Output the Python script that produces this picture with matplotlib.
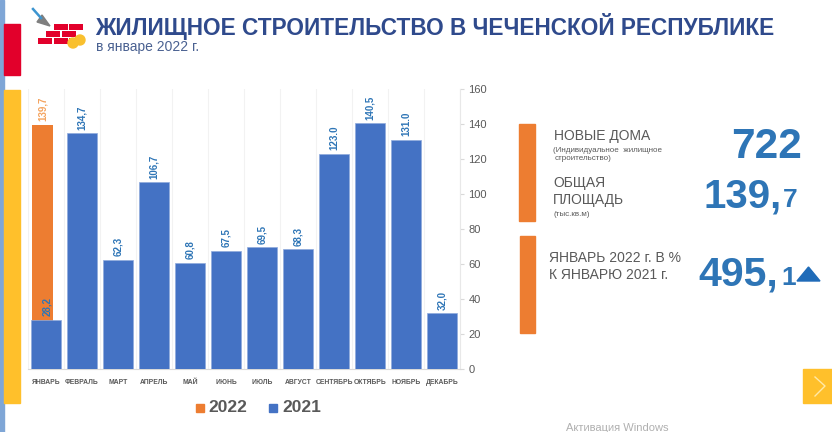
import matplotlib
matplotlib.use('Agg')
import matplotlib.pyplot as plt
from matplotlib.patches import Rectangle, Polygon, Circle

# Data
months = ['ЯНВАРЬ', 'ФЕВРАЛЬ', 'МАРТ', 'АПРЕЛЬ', 'МАЙ', 'ИЮНЬ', 'ИЮЛЬ', 'АВГУСТ',
          'СЕНТЯБРЬ', 'ОКТЯБРЬ', 'НОЯБРЬ', 'ДЕКАБРЬ']
values_2021 = [28.2, 134.7, 62.3, 106.7, 60.8, 67.5, 69.5, 68.3, 123.0, 140.5, 131.0, 32.0]
labels_2021 = ['28,2', '134,7', '62,3', '106,7', '60,8', '67,5', '69,5', '68,3',
               '123.0', '140,5', '131.0', '32,0']
values_2022 = [139.7]
labels_2022 = ['139,7']
y_ticks = [0, 20, 40, 60, 80, 100, 120, 140, 160]

ORANGE = '#ED7D31'
BLUE = '#4472C4'
NAVY = '#2F4A8C'
STEEL = '#2E75B6'
GRAY = '#595959'
YELLOW = '#FFC02B'
RED = '#E2002B'

plt.rcParams['font.family'] = ['Liberation Sans', 'DejaVu Sans']
W, H = 832, 432
fig = plt.figure(figsize=(W / 100, H / 100), dpi=100, facecolor='white')

# --- Bar chart ---
ax = fig.add_axes([28 / W, 1 - 369 / H, 432 / W, 280 / H])
x = list(range(len(months)))
ax.bar([i - 0.4 for i in x[:1]], values_2022, width=0.6, align='edge', color=ORANGE, zorder=2)
ax.bar(x, values_2021, width=0.81, color=BLUE, edgecolor='#8FAADC', linewidth=0.5, zorder=3)

for i, (v, lab) in enumerate(zip(values_2021, labels_2021)):
    dx = 0.03 if i == 0 else 0
    ax.text(i + dx, v + 2, lab, rotation=90, ha='center', va='bottom', fontsize=7,
            color=STEEL, fontweight='bold', zorder=4)
ax.text(-0.09, values_2022[0] + 2, labels_2022[0], rotation=90, ha='center', va='bottom',
        fontsize=7, color='#F4A460', fontweight='bold', zorder=4)

ax.set_xlim(-0.5, 11.5)
ax.set_ylim(0, 160)
ax.set_xticks(x)
ax.set_xticklabels(months, fontsize=4.9, color=GRAY, fontweight='bold')
ax.tick_params(axis='x', length=0, pad=7)
ax.yaxis.tick_right()
ax.set_yticks(y_ticks)
ax.tick_params(axis='y', length=3, color='#D9D9D9', labelsize=8, labelcolor=GRAY, pad=3)
ax.set_xticks([i + 0.5 for i in range(-1, 12)], minor=True)
ax.tick_params(axis='x', which='minor', length=0)
ax.grid(axis='x', which='minor', color='#F2F2F2', linewidth=0.8, zorder=0)
for side in ['top', 'left']:
    ax.spines[side].set_visible(False)
ax.spines['bottom'].set_color('#D9D9D9')
ax.spines['right'].set_color('#E8E8E8')

# --- Slide decoration, pixel coordinates ---
deco = fig.add_axes([0, 0, 1, 1], zorder=5)
deco.set_xlim(0, W)
deco.set_ylim(H, 0)
deco.axis('off')
deco.patch.set_alpha(0)

deco.add_patch(Rectangle((0, 0), 4, H, color='#7FA6D6'))
deco.add_patch(Rectangle((4, 24), 16, 51, color=RED))
deco.add_patch(Rectangle((4, 90), 16, 313, color=YELLOW))
deco.add_patch(Rectangle((803, 369), 29, 34, color=YELLOW))
deco.plot([815, 825, 815], [377, 386, 396], color='#FFE9A8', lw=1)

# brick icon
for bx, by in [(54, 24), (69, 24), (46, 31), (62, 31), (38, 38), (54, 38), (69, 38)]:
    deco.add_patch(Rectangle((bx, by), 14, 5.5, facecolor=RED, edgecolor='none'))
deco.add_patch(Circle((73, 43), 5, color='#F9C02E'))
deco.add_patch(Circle((80, 40), 5, color='#F9C02E'))
deco.add_patch(Polygon([[42, 15], [50, 26], [37, 22]], color='#7F7F7F'))
deco.plot([33, 41], [9, 18], color='#3D95D0', lw=1.8)

deco.text(95, 26, 'ЖИЛИЩНОЕ СТРОИТЕЛЬСТВО В ЧЕЧЕНСКОЙ РЕСПУБЛИКЕ', fontsize=16.33,
          fontweight='bold', color=NAVY, va='center', ha='left')
deco.text(96, 47, 'в январе 2022 г.', fontsize=10, color='#4A6191', va='center', ha='left')

# legend
deco.add_patch(Rectangle((196, 404), 8, 8, color=ORANGE))
deco.text(208, 408, '2022', fontsize=12.5, fontweight='bold', color=GRAY, va='center')
deco.add_patch(Rectangle((269, 404), 8, 8, color=BLUE))
deco.text(282, 408, '2021', fontsize=12.5, fontweight='bold', color=GRAY, va='center')

# right hand panel
deco.add_patch(Rectangle((519, 124), 16, 97, color=ORANGE))
deco.add_patch(Rectangle((520, 236), 15, 97, color=ORANGE))

deco.text(554, 136, 'НОВЫЕ ДОМА', fontsize=10, color=GRAY, va='center')
deco.text(553, 150, '(Индивидуальное  жилищное', fontsize=5.8, color=GRAY, va='center')
deco.text(555, 159, 'строительство)', fontsize=5.8, color=GRAY, va='center')
deco.text(553, 183, 'ОБЩАЯ', fontsize=10, color=GRAY, va='center')
deco.text(553, 200, 'ПЛОЩАДЬ', fontsize=10, color=GRAY, va='center')
deco.text(553, 215, '(тыс.кв.м)', fontsize=5.8, color=GRAY, va='center')
deco.text(549, 258, 'ЯНВАРЬ 2022 г. В %', fontsize=10, color=GRAY, va='center')
deco.text(549, 275, 'К ЯНВАРЮ 2021 г.', fontsize=10, color=GRAY, va='center')

deco.text(802, 158, '722', fontsize=30.5, fontweight='bold', color=STEEL, va='baseline', ha='right')
deco.text(704, 208, '139,', fontsize=29, fontweight='bold', color=STEEL, va='baseline', ha='left')
deco.text(783, 207, '7', fontsize=19, fontweight='bold', color=STEEL, va='baseline', ha='left')
deco.text(698, 285, '495,', fontsize=29.5, fontweight='bold', color=STEEL, va='baseline', ha='left')
deco.text(781, 285, '1', fontsize=19, fontweight='bold', color=STEEL, va='baseline', ha='left')
deco.add_patch(Polygon([[797, 281], [820, 281], [808.5, 267]], color='#1F6BB8'))

deco.text(566, 428, 'Активация Windows', fontsize=8, color='#B0B0B0', va='center')

fig.savefig('out.png', dpi=100)
